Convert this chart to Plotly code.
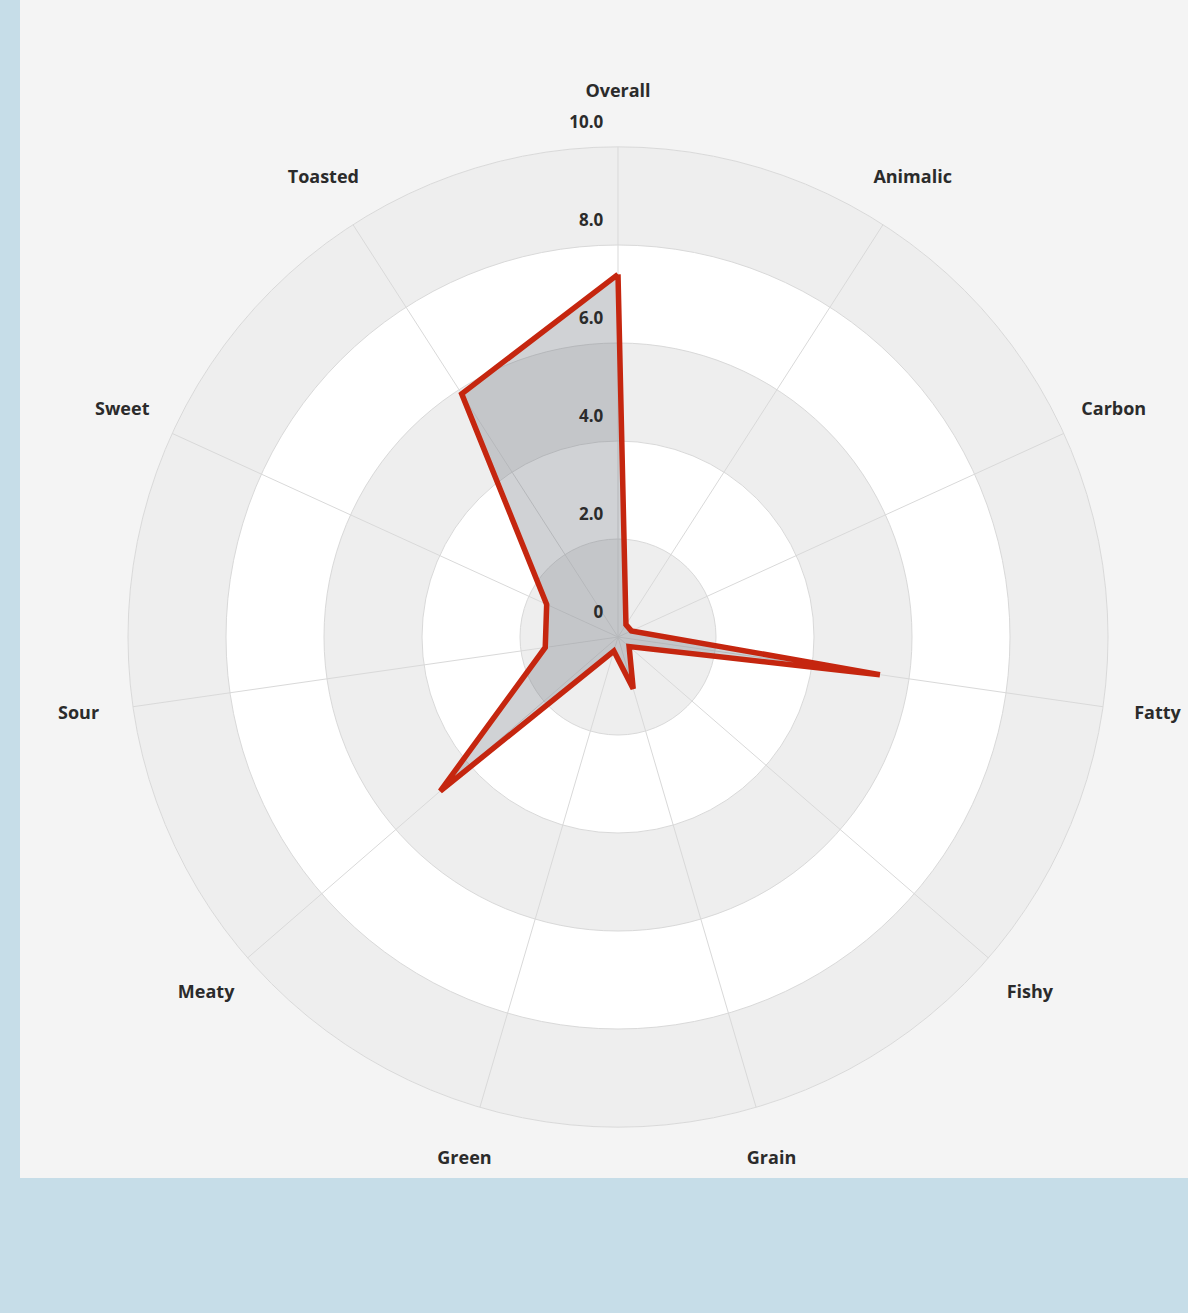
import plotly.graph_objects as go

categories = ["Overall", "Animalic", "Carbon", "Fatty", "Fishy", "Grain",
              "Green", "Meaty", "Sour", "Sweet", "Toasted"]
values = [7.4, 0.3, 0.3, 5.4, 0.3, 1.1, 0.3, 4.8, 1.5, 1.6, 5.9]
tick_values = [0, 2, 4, 6, 8, 10]
tick_labels = ["0", "2.0", "4.0", "6.0", "8.0", "10.0"]
band_bases = [0, 4, 8]
band_width = 2
R_MAX = 10

FONT = "Open Sans"
TXT = "#2b2b2b"
fig = go.Figure()

# alternating gray rings (bottom polar subplot)
fig.add_trace(go.Barpolar(
    r=[band_width] * len(band_bases), base=band_bases,
    theta=[0] * len(band_bases), width=[360] * len(band_bases),
    marker=dict(color="#eeeeee", line=dict(width=0)),
    hoverinfo="skip", showlegend=False, subplot="polar",
))

closed_r = values + [values[0]]
closed_t = categories + [categories[0]]
fig.add_trace(go.Scatterpolar(
    r=closed_r, theta=closed_t, mode="lines",
    line=dict(color="#c5260f", width=5.5, shape="linear"),
    fill="toself", fillcolor="rgba(110,115,125,0.32)",
    showlegend=False, subplot="polar2",
))

# radial tick labels (offset up-left of each ring via an invisible marker)
fig.add_trace(go.Scatterpolar(
    r=tick_values, theta=[categories[0]] * len(tick_values),
    mode="markers+text", text=tick_labels,
    marker=dict(size=22, color="rgba(0,0,0,0)"),
    textposition="top left",
    textfont=dict(family=FONT, size=17, color=TXT, weight="bold"),
    cliponaxis=False, showlegend=False, hoverinfo="skip", subplot="polar2",
))

# category labels on a slightly larger, invisible polar subplot
fig.add_trace(go.Scatterpolar(
    r=[R_MAX] * len(categories), theta=categories,
    mode="text", text=categories, textposition="middle center",
    textfont=dict(family=FONT, size=18, color=TXT, weight="bold"),
    cliponaxis=False, showlegend=False, hoverinfo="skip", subplot="polar3",
))

W, H = 1188, 1313
cx, cy, R = 618, 637, 490
RL = 545


def dom(rad):
    return dict(x=[(cx - rad) / W, (cx + rad) / W],
                y=[1 - (cy + rad) / H, 1 - (cy - rad) / H])


hidden_radial = dict(range=[0, R_MAX], showticklabels=False, ticks="",
                     showline=False, showgrid=False)
fig.update_layout(
    width=W, height=H,
    margin=dict(l=0, r=0, t=0, b=0),
    paper_bgcolor="#c6dde8",
    showlegend=False,
    shapes=[dict(type="rect", xref="paper", yref="paper",
                 x0=20 / W, x1=1.01, y0=1 - 1178 / H, y1=1.01,
                 fillcolor="#f4f4f4", line=dict(width=0), layer="below")],
    polar=dict(
        domain=dom(R), bgcolor="#ffffff",
        radialaxis=hidden_radial,
        angularaxis=dict(showticklabels=False, ticks="", showgrid=False,
                         showline=False),
    ),
    polar2=dict(
        domain=dom(R), bgcolor="rgba(0,0,0,0)",
        radialaxis=dict(range=[0, R_MAX], tickvals=tick_values, showticklabels=False,
                        ticks="", showline=False, gridcolor="#d9d9d9", gridwidth=1,
                        angle=90),
        angularaxis=dict(type="category", categoryorder="array",
                         categoryarray=categories,
                         direction="clockwise", rotation=90,
                         showticklabels=False, ticks="",
                         gridcolor="#d9d9d9", gridwidth=1,
                         showline=True, linecolor="#d9d9d9", linewidth=1),
    ),
    polar3=dict(
        domain=dom(RL), bgcolor="rgba(0,0,0,0)",
        radialaxis=hidden_radial,
        angularaxis=dict(type="category", categoryorder="array",
                         categoryarray=categories,
                         direction="clockwise", rotation=90,
                         showticklabels=False, ticks="", showgrid=False,
                         showline=False),
    ),
)

fig.write_html("out.html", config=dict(displayModeBar=False),
               post_script="document.body.style.margin='0';"
                           "document.body.style.background='#c6dde8';")
